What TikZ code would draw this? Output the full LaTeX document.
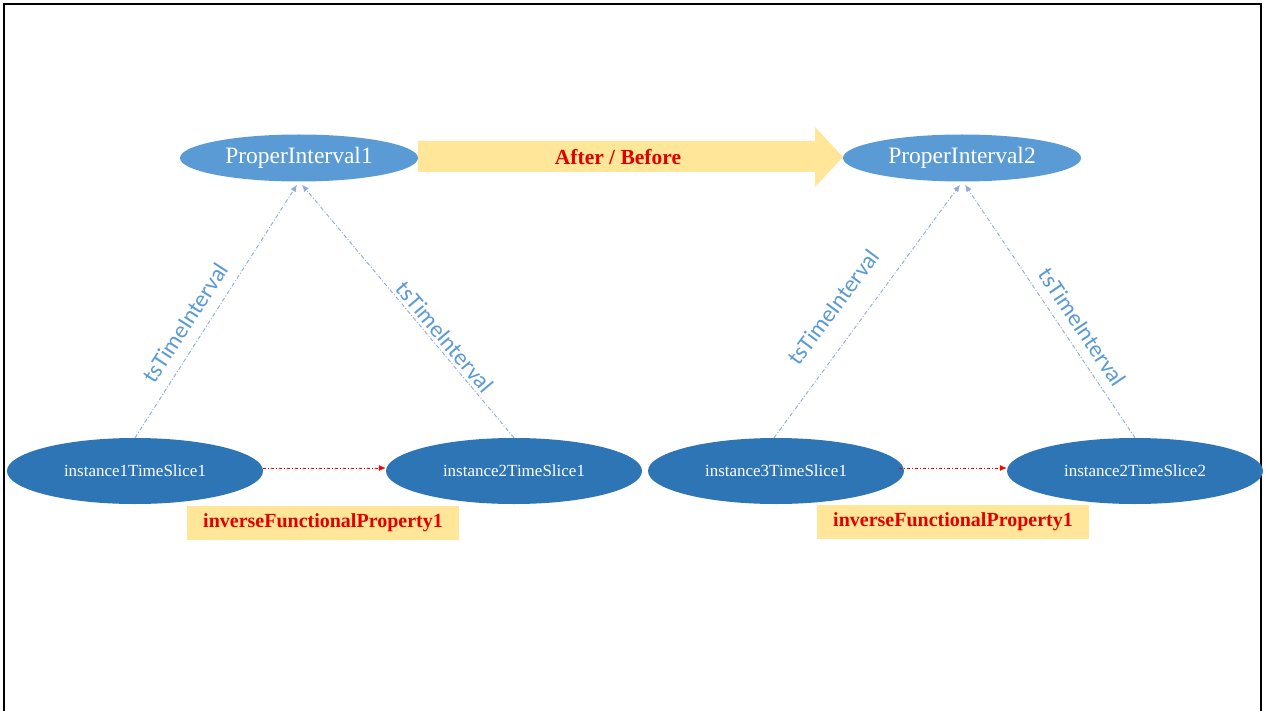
\documentclass[tikz,border=0pt]{standalone}
\usepackage{fontspec}
\setmainfont{Liberation Serif}
\newfontfamily\lblfont{Carlito}
\usetikzlibrary{shapes.geometric,arrows.meta,calc}
\definecolor{topblue}{HTML}{5B9BD5}
\definecolor{botblue}{HTML}{2E75B6}
\definecolor{linkblue}{HTML}{8FAADC}
\definecolor{lblblue}{HTML}{5B9BD5}
\definecolor{paleyellow}{HTML}{FFE699}
\definecolor{darkred}{HTML}{E00000}
\tikzset{
  topell/.style={ellipse, fill=topblue, text=white, minimum width=238pt, minimum height=47pt, inner sep=0pt, font=\fontsize{23.5}{25}\selectfont},
  botell/.style={ellipse, fill=botblue, text=white, minimum width=256pt, minimum height=66pt, inner sep=0pt, font=\fontsize{17}{19}\selectfont},
  tslink/.style={draw=linkblue, line width=0.9pt, dash pattern=on 4pt off 2pt on 1pt off 2pt, -{Latex[length=7pt,width=6pt]}},
  tslabel/.style={text=lblblue, font=\lblfont\fontsize{23.5}{25}\selectfont, inner sep=0pt},
  iflink/.style={draw=red, line width=0.8pt, dash pattern=on 3pt off 2pt on 1pt off 2pt, -{Latex[length=7pt,width=6pt]}},
  ifbox/.style={fill=paleyellow, text=darkred, font=\bfseries\fontsize{20}{22}\selectfont, minimum width=272pt, minimum height=34pt, inner sep=0pt},
}
\begin{document}
\begin{tikzpicture}[x=1pt,y=-1pt]
\useasboundingbox (0,0) rectangle (1265,711);
\fill[white] (0,0) rectangle (1265,711);
% frame
\draw[black, line width=1.6pt] (4,711) -- (4,4) -- (1261,4) -- (1261,711);

% top ellipses
\node[topell] (P1) at (299,158) {ProperInterval1};
\node[topell] (P2) at (962,158) {ProperInterval2};

% big arrow
\fill[paleyellow] (418,141) -- (815,141) -- (815,127) -- (843,157) -- (815,187) -- (815,172) -- (418,172) -- cycle;
\node[text=darkred, font=\bfseries\fontsize{21.5}{23}\selectfont] (AB) at (618,157) {After / Before};

% bottom ellipses
\node[botell] (I1) at (135,471) {instance1TimeSlice1};
\node[botell] (I2) at (514,471) {instance2TimeSlice1};
\node[botell] (I3) at (776,471) {instance3TimeSlice1};
\node[botell] (I4) at (1135,471) {instance2TimeSlice2};

% tsTimeInterval links
\draw[tslink] (I1.north) -- ($(P1.south)+(-2,3)$);
\draw[tslink] (I2.north) -- ($(P1.south)+(3,3)$);
\draw[tslink] ($(I3.north)+(-2,0)$) -- ($(P2.south)+(-2,3)$);
\draw[tslink] (I4.north) -- ($(P2.south)+(3,3)$);

\node[tslabel, rotate=57] (L1) at (185,323) {tsTimeInterval};
\node[tslabel, rotate=-50] (L2) at (445,337) {tsTimeInterval};
\node[tslabel, rotate=53.5] (L3) at (833,307) {tsTimeInterval};
\node[tslabel, rotate=-56] (L4) at (1082,327) {tsTimeInterval};

% inverse functional links
\draw[iflink] ($(I1.east)+(0,-3)$) -- ($(I2.west)+(0,-3)$);
\draw[iflink] ($(I3.east)+(-5,-3)$) -- ($(I4.west)+(0,-3)$);

\node[ifbox] (F1) at (323,523) {inverseFunctionalProperty1};
\node[ifbox] (F2) at (953,522) {inverseFunctionalProperty1};
\end{tikzpicture}
\end{document}
